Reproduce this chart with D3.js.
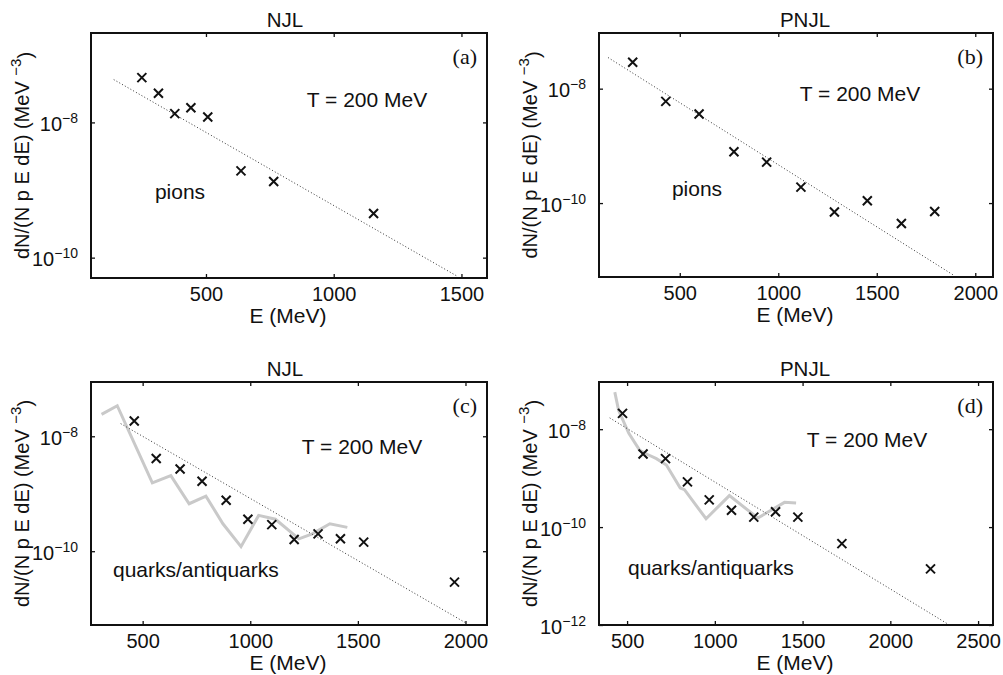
<!DOCTYPE html>
<html>
<head>
<meta charset="utf-8">
<script src="https://cdn.jsdelivr.net/npm/d3@7"></script>
<style>
  body { margin: 0; background: #fff; }
  svg { font-family: "Liberation Sans", Arial, Helvetica, sans-serif; }
</style>
</head>
<body>
<div id="chart"></div>
<script>
// values (E in MeV, spectrum in MeV^-3)
const pionNjlE = [249, 314, 378, 441, 507, 637, 765, 1156];
const pionNjlY = [4.6e-8, 2.7e-8, 1.35e-8, 1.65e-8, 1.2e-8, 1.92e-9, 1.34e-9, 4.5e-10];
const pionNjlFitE = [139, 1484];
const pionNjlFitY = [4.3e-8, 5.3e-11];

const pionPnjlE = [261, 429, 598, 775, 941, 1115, 1285, 1452, 1625, 1794];
const pionPnjlY = [2.9e-8, 6e-9, 3.6e-9, 7.9e-10, 5.2e-10, 1.9e-10, 7e-11, 1.1e-10, 4.4e-11, 7.1e-11];
const pionPnjlFitE = [136, 1893];
const pionPnjlFitY = [3.5e-8, 5.4e-12];

const quarkNjlE = [461, 563, 674, 776, 888, 989, 1100, 1204, 1315, 1419, 1527, 1949];
const quarkNjlY = [1.85e-8, 4.1e-9, 2.7e-9, 1.65e-9, 7.7e-10, 3.6e-10, 2.9e-10, 1.6e-10, 2e-10, 1.65e-10, 1.44e-10, 2.9e-11];
const quarkNjlCurveE = [309, 382, 545, 631, 716, 794, 873, 957, 1039, 1117, 1226, 1288, 1370, 1451];
const quarkNjlCurveY = [2.4e-8, 3.4e-8, 1.55e-9, 2.07e-9, 6.7e-10, 9.1e-10, 3e-10, 1.2e-10, 4.2e-10, 3.6e-10, 1.64e-10, 2e-10, 3e-10, 2.6e-10];
const quarkNjlFitE = [398, 2000];
const quarkNjlFitY = [1.66e-8, 5.7e-12];

const quarkPnjlE = [474, 591, 719, 844, 968, 1095, 1222, 1346, 1473, 1724, 2229];
const quarkPnjlY = [2.1e-8, 3.1e-9, 2.5e-9, 8.4e-10, 3.6e-10, 2.2e-10, 1.6e-10, 2.05e-10, 1.6e-10, 4.6e-11, 1.4e-11];
const quarkPnjlCurveE = [430, 452, 510, 572, 620, 667, 724, 803, 827, 950, 1083, 1245, 1397, 1463];
const quarkPnjlCurveY = [5.7e-8, 2.4e-8, 8.2e-9, 3.7e-9, 3e-9, 2.5e-9, 1.85e-9, 6.3e-10, 5.8e-10, 1.48e-10, 4.4e-10, 1.53e-10, 3.2e-10, 3.1e-10];
const quarkPnjlFitE = [401, 2323];
const quarkPnjlFitY = [1.7e-8, 1.07e-12];

const xTicksA = [500, 1000, 1500];
const xTicksB = [500, 1000, 1500, 2000];
const xTicksC = [500, 1000, 1500, 2000];
const xTicksD = [500, 1000, 1500, 2000, 2500];
const yTicksAB = [1e-10, 1e-8];
const yTicksD = [1e-12, 1e-10, 1e-8];

const zip = (a, b) => a.map((v, i) => [v, b[i]]);

const panels = [
  { title: "NJL", tag: "(a)", species: "pions", left: 91, top: 33, right: 487, bottom: 278,
    xDom: [50, 1600], yDom: [5e-11, 2.1e-7], xTicks: xTicksA, yTicks: yTicksAB,
    pts: zip(pionNjlE, pionNjlY), fit: zip(pionNjlFitE, pionNjlFitY), curve: null,
    titleX: 285, tX: 367, tY: 107, sX: 180, sY: 199, sAnchor: "middle" },
  { title: "PNJL", tag: "(b)", species: "pions", left: 599, top: 33, right: 993, bottom: 277,
    xDom: [90, 2090], yDom: [5.1e-12, 9.4e-8], xTicks: xTicksB, yTicks: yTicksAB,
    pts: zip(pionPnjlE, pionPnjlY), fit: zip(pionPnjlFitE, pionPnjlFitY), curve: null,
    titleX: 805, tX: 860, tY: 101, sX: 697, sY: 196, sAnchor: "middle" },
  { title: "NJL", tag: "(c)", species: "quarks/antiquarks", left: 91, top: 382, right: 487, bottom: 625,
    xDom: [260, 2100], yDom: [5.2e-12, 8.8e-8], xTicks: xTicksC, yTicks: yTicksAB,
    pts: zip(quarkNjlE, quarkNjlY), fit: zip(quarkNjlFitE, quarkNjlFitY), curve: zip(quarkNjlCurveE, quarkNjlCurveY),
    titleX: 285, tX: 362, tY: 454, sX: 113, sY: 577, sAnchor: "start" },
  { title: "PNJL", tag: "(d)", species: "quarks/antiquarks", left: 599, top: 382, right: 993, bottom: 625,
    xDom: [340, 2585], yDom: [1e-12, 9.2e-8], xTicks: xTicksD, yTicks: yTicksD,
    pts: zip(quarkPnjlE, quarkPnjlY), fit: zip(quarkPnjlFitE, quarkPnjlFitY), curve: zip(quarkPnjlCurveE, quarkPnjlCurveY),
    titleX: 805, tX: 867, tY: 447, sX: 628, sY: 575, sAnchor: "start" }
];

const svg = d3.select("#chart").append("svg")
  .attr("width", 1003)
  .attr("height", 675);

panels.forEach(function (p) {
  const w = p.right - p.left, h = p.bottom - p.top;
  const g = svg.append("g").attr("transform", `translate(${p.left}, ${p.top})`);

  const x = d3.scaleLinear().domain(p.xDom).range([0, w]);
  const y = d3.scaleLog().domain(p.yDom).range([h, 0]);

  const clipId = "clip" + p.tag.replace(/\W/g, "");
  g.append("clipPath").attr("id", clipId)
    .append("rect").attr("width", w).attr("height", h);
  const plot = g.append("g").attr("clip-path", `url(#${clipId})`);

  const line = d3.line().x(d => x(d[0])).y(d => y(d[1]));

  if (p.curve) {
    plot.append("path").datum(p.curve)
      .attr("d", line)
      .attr("fill", "none")
      .attr("stroke", "#c9c9c9")
      .attr("stroke-width", 3)
      .attr("stroke-linejoin", "miter");
  }

  plot.append("path").datum(p.fit)
    .attr("d", line)
    .attr("fill", "none")
    .attr("stroke", "#333")
    .attr("stroke-width", 1)
    .attr("stroke-dasharray", "1,2.2");

  const s = 4.5;
  plot.append("g").selectAll("path")
    .data(p.pts)
    .join("path")
    .attr("d", d => {
      const cx = x(d[0]), cy = y(d[1]);
      return `M${cx - s},${cy - s}L${cx + s},${cy + s}M${cx - s},${cy + s}L${cx + s},${cy - s}`;
    })
    .attr("stroke", "#111")
    .attr("stroke-width", 2);

  // axes, ticks pointing inward on all four sides
  const xAxis = g.append("g").attr("transform", `translate(0, ${h})`)
    .call(d3.axisBottom(x).tickValues(p.xTicks).tickFormat(d3.format("d"))
      .tickSizeInner(-4).tickSizeOuter(0).tickPadding(9));
  g.append("g")
    .call(d3.axisTop(x).tickValues(p.xTicks).tickFormat("").tickSizeInner(-4).tickSizeOuter(0));
  const yAxis = g.append("g")
    .call(d3.axisLeft(y).tickValues(p.yTicks).tickFormat("")
      .tickSizeInner(-4).tickSizeOuter(0).tickPadding(13));
  g.append("g").attr("transform", `translate(${w}, 0)`)
    .call(d3.axisRight(y).tickValues(p.yTicks).tickFormat("").tickSizeInner(-4).tickSizeOuter(0));

  g.selectAll(".domain").remove();
  g.selectAll(".tick line").attr("stroke", "#111").attr("stroke-width", 1.3);

  xAxis.selectAll("text").attr("font-size", 20).attr("fill", "#111")
    .attr("font-family", "Liberation Sans, Arial, sans-serif");

  yAxis.selectAll(".tick text").each(function (d) {
    const t = d3.select(this)
      .attr("font-size", 20).attr("fill", "#111")
      .attr("font-family", "Liberation Sans, Arial, sans-serif")
      .attr("dy", "0.4em");
    t.append("tspan").text("10");
    t.append("tspan").attr("dy", "-0.55em").attr("font-size", 14)
      .text("\u2212" + Math.round(-Math.log10(d)));
  });

  g.append("rect")
    .attr("width", w).attr("height", h)
    .attr("fill", "none").attr("stroke", "#111").attr("stroke-width", 2);

  // labels
  svg.append("text")
    .attr("x", p.titleX).attr("y", p.top - 6)
    .attr("text-anchor", "middle").attr("font-size", 20.5).attr("fill", "#111")
    .text(p.title);

  svg.append("text")
    .attr("x", (p.left + p.right) / 2 - 1).attr("y", p.bottom + 45)
    .attr("text-anchor", "middle").attr("font-size", 21).attr("fill", "#111")
    .text("E (MeV)");

  const yl = svg.append("text")
    .attr("transform", `translate(${p.left - 62}, ${(p.top + p.bottom) / 2}) rotate(-90)`)
    .attr("text-anchor", "middle").attr("font-size", 20).attr("fill", "#111");
  yl.append("tspan").text("dN/(N p E dE) (MeV ");
  yl.append("tspan").attr("dy", "-0.55em").attr("font-size", 15).text("\u22123");
  yl.append("tspan").attr("dy", "0.55em").text(")");

  svg.append("text")
    .attr("x", p.right - 10).attr("y", p.top + 31)
    .attr("text-anchor", "end").attr("font-size", 22).attr("fill", "#111")
    .attr("font-family", "Liberation Serif, Times New Roman, serif")
    .text(p.tag);

  svg.append("text")
    .attr("x", p.tX).attr("y", p.tY)
    .attr("text-anchor", "middle").attr("font-size", 21).attr("fill", "#111")
    .text("T = 200 MeV");

  svg.append("text")
    .attr("x", p.sX).attr("y", p.sY)
    .attr("text-anchor", p.sAnchor).attr("font-size", 21).attr("fill", "#111")
    .text(p.species);
});
</script>
</body>
</html>
